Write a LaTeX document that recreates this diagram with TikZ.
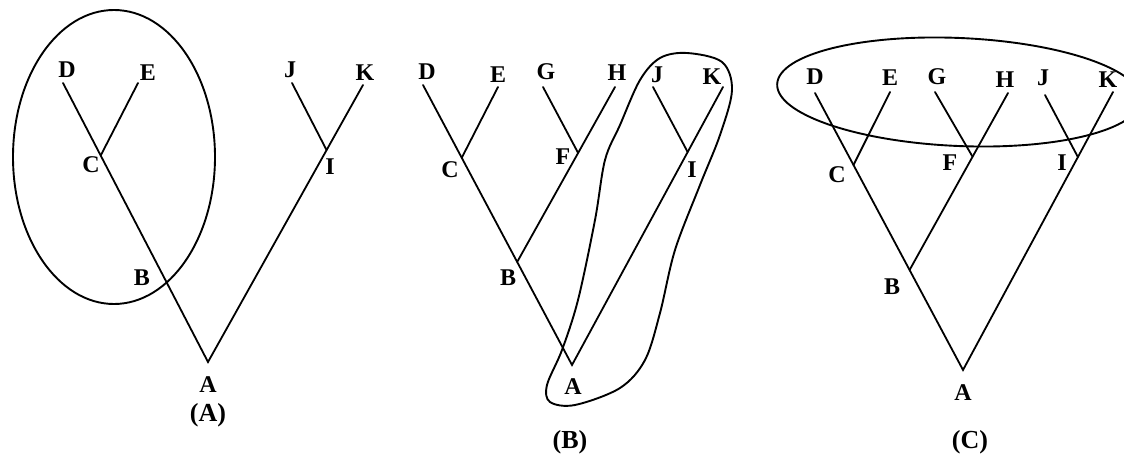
\documentclass[tikz,border=0pt]{standalone}
\usepackage{fontspec}
\setmainfont{Liberation Serif}
\usetikzlibrary{calc}

\begin{document}
\begin{tikzpicture}[x=1pt,y=-1pt,
  branch/.style={line width=1.8pt,line cap=round},
  grouping/.style={line width=1.9pt},
  taxon/.style={font=\fontsize{24}{28}\selectfont\bfseries,inner sep=0pt},
  panel/.style={font=\fontsize{26}{30}\selectfont\bfseries,inner sep=0pt}]
  \useasboundingbox (0,0) rectangle (1124,457);

  % (A)
  \coordinate (aD) at (63,83);
  \coordinate (aE) at (138,83);
  \coordinate (aJ) at (292,83);
  \coordinate (aK) at (363,85);
  \coordinate (aA) at (208,362);
  \coordinate (aC) at ($(aD)!0.26!(aA)$);
  \coordinate (aB) at ($(aD)!0.71!(aA)$);
  \coordinate (aI) at ($(aK)!0.235!(aA)$);
  \draw[branch] (aD) -- (aA) -- (aK);
  \draw[branch] (aE) -- (aC);
  \draw[branch] (aJ) -- (aI);
  \draw[grouping] (114,157) ellipse [x radius=101, y radius=147];
  \node[taxon] (laD) at (67,70) {D};
  \node[taxon] (laE) at (148,73) {E};
  \node[taxon] (laJ) at (290,70) {J};
  \node[taxon] (laK) at (365,73) {K};
  \node[taxon] (laC) at (91,165) {C};
  \node[taxon] (laB) at (142,278) {B};
  \node[taxon] (laI) at (330,167) {I};
  \node[taxon] (laA) at (208,385) {A};
  \node[panel] (capA) at (208,415) {(A)};

  % (B)
  \coordinate (bD) at (423,85);
  \coordinate (bE) at (498,87);
  \coordinate (bG) at (543,87);
  \coordinate (bH) at (615,87);
  \coordinate (bJ) at (653,87);
  \coordinate (bK) at (723,87);
  \coordinate (bA) at (572,365);
  \coordinate (bC) at ($(bD)!0.26!(bA)$);
  \coordinate (bB) at ($(bD)!0.632!(bA)$);
  \coordinate (bF) at ($(bH)!0.377!(bB)$);
  \coordinate (bI) at ($(bK)!0.234!(bA)$);
  \draw[branch] (bD) -- (bA) -- (bK);
  \draw[branch] (bE) -- (bC);
  \draw[branch] (bH) -- (bB);
  \draw[branch] (bG) -- (bF);
  \draw[branch] (bJ) -- (bI);
  \draw[grouping] plot[smooth cycle, tension=0.55] coordinates {
    (687,53) (722,62) (732,90) (720,135) (700,185) (675,250) (660,313)
    (645,360) (620,388) (575,405) (550,402) (547,385) (562,350)
    (578,300) (595,220) (605,160) (620,125) (640,80) (660,58)};
  \node[taxon] (lbD) at (427,72) {D};
  \node[taxon] (lbE) at (498,75) {E};
  \node[taxon] (lbG) at (546,72) {G};
  \node[taxon] (lbH) at (617,73) {H};
  \node[taxon] (lbJ) at (657,75) {J};
  \node[taxon] (lbK) at (712,77) {K};
  \node[taxon] (lbC) at (450,170) {C};
  \node[taxon] (lbF) at (563,157) {F};
  \node[taxon] (lbB) at (508,278) {B};
  \node[taxon] (lbI) at (692,170) {I};
  \node[taxon] (lbA) at (573,387) {A};
  \node[panel] (capB) at (570,442) {(B)};

  % (C)
  \coordinate (cD) at (815,93);
  \coordinate (cE) at (890,92);
  \coordinate (cG) at (935,92);
  \coordinate (cH) at (1008,93);
  \coordinate (cJ) at (1045,95);
  \coordinate (cK) at (1113,92);
  \coordinate (cA) at (963,370);
  \coordinate (cC) at ($(cD)!0.26!(cA)$);
  \coordinate (cB) at ($(cD)!0.639!(cA)$);
  \coordinate (cF) at ($(cH)!0.36!(cB)$);
  \coordinate (cI) at ($(cK)!0.234!(cA)$);
  \draw[branch] (cD) -- (cA) -- (cK);
  \draw[branch] (cE) -- (cC);
  \draw[branch] (cH) -- (cB);
  \draw[branch] (cG) -- (cF);
  \draw[branch] (cJ) -- (cI);
  \draw[grouping,rotate around={-2.5:(959,92)}] (959,92) ellipse [x radius=182, y radius=54];
  \node[taxon] (lcD) at (815,77) {D};
  \node[taxon] (lcE) at (890,78) {E};
  \node[taxon] (lcG) at (937,77) {G};
  \node[taxon] (lcH) at (1005,80) {H};
  \node[taxon] (lcJ) at (1043,78) {J};
  \node[taxon] (lcK) at (1108,80) {K};
  \node[taxon] (lcC) at (837,175) {C};
  \node[taxon] (lcF) at (950,163) {F};
  \node[taxon] (lcB) at (892,287) {B};
  \node[taxon] (lcI) at (1062,163) {I};
  \node[taxon] (lcA) at (963,393) {A};
  \node[panel] (capC) at (970,442) {(C)};
\end{tikzpicture}
\end{document}
